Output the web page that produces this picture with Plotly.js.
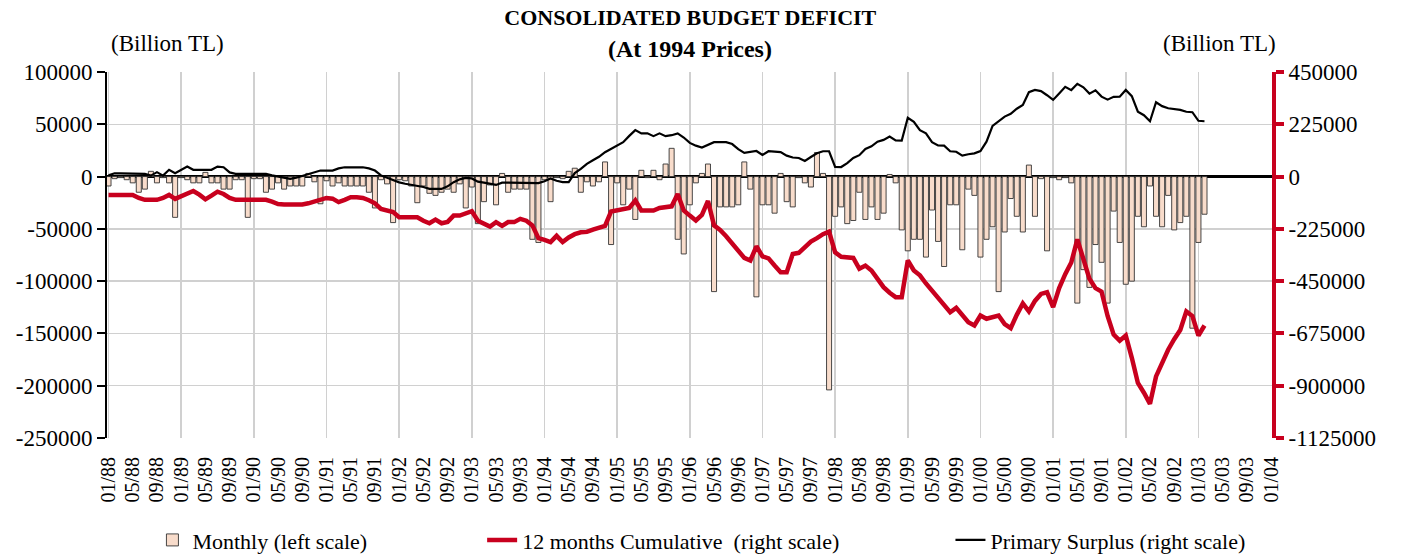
<!DOCTYPE html>
<html>
<head>
<meta charset="utf-8">
<script src="https://cdn.plot.ly/plotly-3.0.1.min.js"></script>
<style>body{margin:0;background:#fff}</style>
</head>
<body>
<div id="graph" style="width:1403px;height:557px"></div>
<script>
// x axis labels, every 4 months from 01/88 to 01/04
const tickLabels = [
    '01/88','05/88','09/88','01/89','05/89','09/89','01/90','05/90','09/90',
    '01/91','05/91','09/91','01/92','05/92','09/92','01/93','05/93','09/93',
    '01/94','05/94','09/94','01/95','05/95','09/95','01/96','05/96','09/96',
    '01/97','05/97','09/97','01/98','05/98','09/98','01/99','05/99','09/99',
    '01/00','05/00','09/00','01/01','05/01','09/01','01/02','05/02','09/02',
    '01/03','05/03','09/03','01/04'
]

// monthly deficit (left scale, billion TL), 01/88 .. 02/03
const monthly = [
    -9000, -2000, -1000, -3000, -6000, -15000, -12000, 5000, -6000, -1000, -6000, -39000,
    -1000, -3000, -6000, -6000, 4000, -6000, -6000, -12000, -12000, -3000, -3000, -39000,
    -2000, -2000, -15000, -12000, -6000, -12000, -9000, -9000, -9000, 3000, -5000, -26000,
    -4000, -9000, -6000, -9000, -9000, -9000, -9000, -15000, -30000, -3000, -7000, -44000,
    -3000, -4000, -9000, -25000, -9000, -16000, -18000, -15000, -12000, -15000, -7000, -30000,
    -10000, -45000, -24000, -8000, -27000, 3000, -15000, -12000, -12000, -12000, -60000, -63000,
    -3000, -24000, -1000, -2000, 5000, 8000, -15000, -5000, -9000, -5000, 14000, -65000,
    -6000, -27000, -12000, -41000, 6000, -1000, 6000, -3000, 12000, 27000, -60000, -74000,
    -27000, -6000, 3000, 12000, -110000, -29000, -29000, -29000, -27000, 14000, -12000, -115000,
    -27000, -27000, -35000, 3000, -24000, -29000, -1000, -6000, -10000, 23000, 3000, -204000,
    -38000, -29000, -45000, -42000, -15000, -41000, -29000, -41000, -35000, 2000, -6000, -51000,
    -71000, -60000, -60000, -77000, -32000, -62000, -86000, -27000, -27000, -70000, -12000, -18000,
    -77000, -60000, -48000, -110000, -53000, -21000, -38000, -53000, 11000, -38000, -2000, -71000,
    -1000, -3000, -1000, -6000, -121000, -89000, -106000, -65000, -82000, -121000, -33000, -63000,
    -103000, -100000, -38000, -48000, -9000, -38000, -48000, -18000, -51000, -44000, -38000, -145000,
    -63000, -36000
]

// 12 months cumulative (right scale)
const cumulative = [
    -79000, -79000, -79000, -79000, -79000, -92000, -100000, -100000, -100000, -92000, -79000, -96000,
    -85000, -70000, -62000, -78000, -98000, -82000, -65000, -75000, -92000, -100000, -100000, -100000,
    -100000, -100000, -100000, -108000, -118000, -120000, -120000, -120000, -120000, -115000, -108000, -100000,
    -92000, -95000, -110000, -100000, -89000, -89000, -92000, -102000, -115000, -139000, -146000, -153000,
    -175000, -175000, -172000, -175000, -190000, -201000, -185000, -201000, -195000, -168000, -168000, -160000,
    -149000, -190000, -205000, -215000, -196000, -212000, -196000, -196000, -182000, -190000, -210000, -265000,
    -272000, -282000, -255000, -282000, -262000, -248000, -240000, -238000, -228000, -220000, -212000, -150000,
    -146000, -140000, -135000, -103000, -146000, -146000, -146000, -135000, -133000, -128000, -75000, -146000,
    -168000, -189000, -165000, -105000, -210000, -230000, -257000, -290000, -320000, -350000, -361000, -300000,
    -343000, -352000, -383000, -412000, -412000, -333000, -328000, -304000, -280000, -265000, -248000, -237000,
    -326000, -345000, -347000, -350000, -397000, -383000, -404000, -440000, -476000, -500000, -519000, -519000,
    -361000, -404000, -425000, -460000, -490000, -522000, -555000, -584000, -565000, -595000, -627000, -641000,
    -598000, -612000, -605000, -598000, -635000, -652000, -595000, -546000, -580000, -535000, -505000, -498000,
    -562000, -480000, -420000, -370000, -270000, -361000, -440000, -480000, -495000, -600000, -680000, -706000,
    -684000, -780000, -888000, -930000, -978000, -860000, -800000, -745000, -700000, -660000, -580000, -600000,
    -684000, -641000
]

// primary surplus (right scale)
const primary = [
    5000, 14000, 14000, 14000, 14000, 14000, 12000, 4000, 19000, 4000, 29000, 14000,
    28000, 43000, 29000, 29000, 29000, 29000, 43000, 40000, 18000, 12000, 12000, 12000,
    12000, 12000, 12000, 5000, 0, -5000, -10000, -5000, 3000, 10000, 17000, 26000,
    26000, 26000, 35000, 40000, 40000, 40000, 40000, 35000, 26000, 5000, -5000, -15000,
    -25000, -31000, -36000, -39000, -45000, -53000, -53000, -53000, -42000, -24000, -12000, -6000,
    -8000, -22000, -26000, -30000, -36000, -26000, -26000, -26000, -26000, -26000, -28000, -28000,
    -20000, -8000, -18000, -24000, -24000, 15000, 33000, 55000, 70000, 85000, 105000, 120000,
    135000, 148000, 175000, 200000, 186000, 186000, 174000, 186000, 174000, 178000, 186000, 168000,
    145000, 133000, 125000, 135000, 148000, 148000, 148000, 140000, 118000, 102000, 105000, 110000,
    93000, 109000, 107000, 105000, 90000, 82000, 80000, 67000, 84000, 100000, 109000, 109000,
    42000, 41000, 58000, 80000, 92000, 119000, 130000, 150000, 158000, 172000, 156000, 155000,
    253000, 236000, 200000, 186000, 148000, 134000, 133000, 109000, 107000, 90000, 96000, 100000,
    110000, 150000, 218000, 238000, 258000, 270000, 292000, 308000, 363000, 373000, 368000, 350000,
    330000, 358000, 386000, 372000, 399000, 384000, 357000, 371000, 344000, 331000, 343000, 344000,
    373000, 346000, 279000, 264000, 238000, 320000, 303000, 294000, 291000, 287000, 279000, 277000,
    240000, 238000
]

const leftTicks = [100000, 50000, 0, -50000, -100000, -150000, -200000, -250000]
const rightTicks = [450000, 225000, 0, -225000, -450000, -675000, -900000, -1125000]

const serif = 'Liberation Serif, DejaVu Serif, serif'
const redColor = '#c8001e'
const gridColor = '#d0d0d0'

const months = monthly.map((v, i) => i)

const plotData = [
    {
        type: 'bar',
        x: months,
        y: monthly,
        name: 'Monthly (left scale)',
        marker: {color: '#f8dccb', line: {color: '#333', width: 0.9}},
        showlegend: true,
        legend: 'legend'
    },
    {
        type: 'scatter',
        mode: 'lines',
        x: months,
        y: cumulative,
        yaxis: 'y2',
        name: '12 months Cumulative&nbsp; (right scale)',
        line: {color: redColor, width: 4.5},
        showlegend: true,
        legend: 'legend2'
    },
    {
        type: 'scatter',
        mode: 'lines',
        x: months,
        y: primary,
        yaxis: 'y2',
        name: 'Primary Surplus (right scale)',
        line: {color: '#000', width: 2.2},
        showlegend: true,
        legend: 'legend3'
    }
]

const legendBase = {
    orientation: 'h',
    y: -0.279,
    yanchor: 'middle',
    xanchor: 'left',
    bgcolor: 'rgba(0,0,0,0)',
    font: {family: serif, size: 22, color: '#000'}
}

Plotly.newPlot('graph', plotData, {
    width: 1403,
    height: 557,
    margin: {l: 107, r: 131, t: 72, b: 119, autoexpand: false},
    paper_bgcolor: '#fff',
    plot_bgcolor: '#fff',
    font: {family: serif, color: '#000'},
    bargap: 0.17,
    showlegend: true,
    title: {
        text: '<b>CONSOLIDATED BUDGET DEFICIT</b>',
        x: 0.492,
        xanchor: 'center',
        y: 0.969,
        yanchor: 'middle',
        font: {family: serif, size: 22, color: '#000'}
    },
    annotations: [
        {text: '<b>(At 1994 Prices)</b>', xref: 'paper', yref: 'paper', x: 0.5, y: 1.063,
         xanchor: 'center', yanchor: 'middle', showarrow: false, font: {family: serif, size: 24}},
        {text: '(Billion TL)', xref: 'paper', yref: 'paper', x: 0.052, y: 1.077,
         xanchor: 'center', yanchor: 'middle', showarrow: false, font: {family: serif, size: 23}},
        {text: '(Billion TL)', xref: 'paper', yref: 'paper', x: 0.955, y: 1.077,
         xanchor: 'center', yanchor: 'middle', showarrow: false, font: {family: serif, size: 23}}
    ],
    xaxis: {
        range: [-0.25, 192.15],
        tickmode: 'array',
        tickvals: tickLabels.map((t, k) => 4 * k),
        ticktext: tickLabels,
        tickangle: -90,
        tickfont: {family: serif, size: 20},
        ticklabelstandoff: 14,
        ticks: '',
        showgrid: false,
        zeroline: false,
        showline: false,
        automargin: false,
        minor: {tickmode: 'linear', tick0: 0, dtick: 12, showgrid: true, gridcolor: gridColor, gridwidth: 1.5, ticks: ''}
    },
    yaxis: {
        range: [-250000, 100000],
        tickmode: 'array',
        tickvals: leftTicks,
        ticktext: leftTicks.map(String),
        tickfont: {family: serif, size: 23},
        automargin: false,
        showline: true,
        linecolor: '#000',
        linewidth: 2,
        ticks: 'outside',
        ticklen: 8,
        tickwidth: 2,
        tickcolor: '#000',
        gridcolor: gridColor,
        gridwidth: 1.5,
        zeroline: true,
        zerolinecolor: '#000',
        zerolinewidth: 3
    },
    yaxis2: {
        overlaying: 'y',
        side: 'right',
        range: [-1125000, 450000],
        tickmode: 'array',
        tickvals: rightTicks,
        ticktext: rightTicks.map(String),
        tickfont: {family: serif, size: 23},
        automargin: false,
        showline: true,
        linecolor: redColor,
        linewidth: 4,
        ticks: 'outside',
        ticklen: 8,
        tickwidth: 4,
        tickcolor: redColor,
        showgrid: false,
        zeroline: false
    },
    legend: Object.assign({}, legendBase, {x: 0.039}),
    legend2: Object.assign({}, legendBase, {x: 0.322}),
    legend3: Object.assign({}, legendBase, {x: 0.724})
}, {displayModeBar: false, staticPlot: true})
</script>
</body>
</html>
